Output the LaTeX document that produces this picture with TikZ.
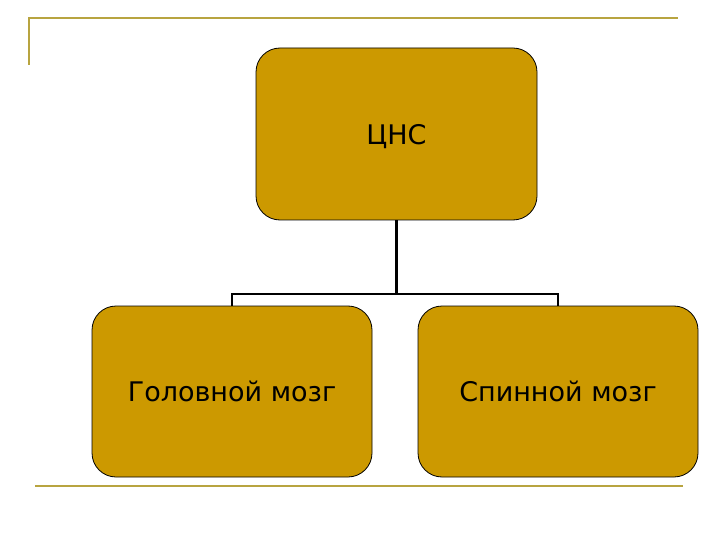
\documentclass[tikz,border=0pt]{standalone}
\usepackage{fontspec}
\setmainfont{DejaVu Sans}
\definecolor{boxfill}{RGB}{204,153,0}
\definecolor{frameline}{RGB}{184,164,64}
\begin{document}
\begin{tikzpicture}[x=1pt,y=-1pt,
  orgbox/.style={draw=black,line width=0.8pt,fill=boxfill,rounded corners=24pt,
    minimum width=#1,inner sep=0pt,text depth=0pt,font=\fontsize{27}{31}\selectfont},
  conn/.style={draw=black,line width=2.2pt},
  frame/.style={draw=frameline,line width=2.6pt}]
\useasboundingbox (0,0) rectangle (720,540);
\draw[frame] (29,65) -- (29,18) -- (678,18);
\draw[frame] (35,486) -- (683,486);
\node[orgbox=281pt,minimum height=172pt] (cns) at (396.5,134) {ЦНС};
\node[orgbox=280pt,minimum height=171pt] (brain) at (232,391.5) {Головной мозг};
\node[orgbox=280pt,minimum height=171pt] (spine) at (558,391.5) {Спинной мозг};
\coordinate (j) at (396.5,294);
\draw[conn] (cns.south) -- (j) -| (brain.north);
\draw[conn] (j) -| (spine.north);
\end{tikzpicture}
\end{document}
